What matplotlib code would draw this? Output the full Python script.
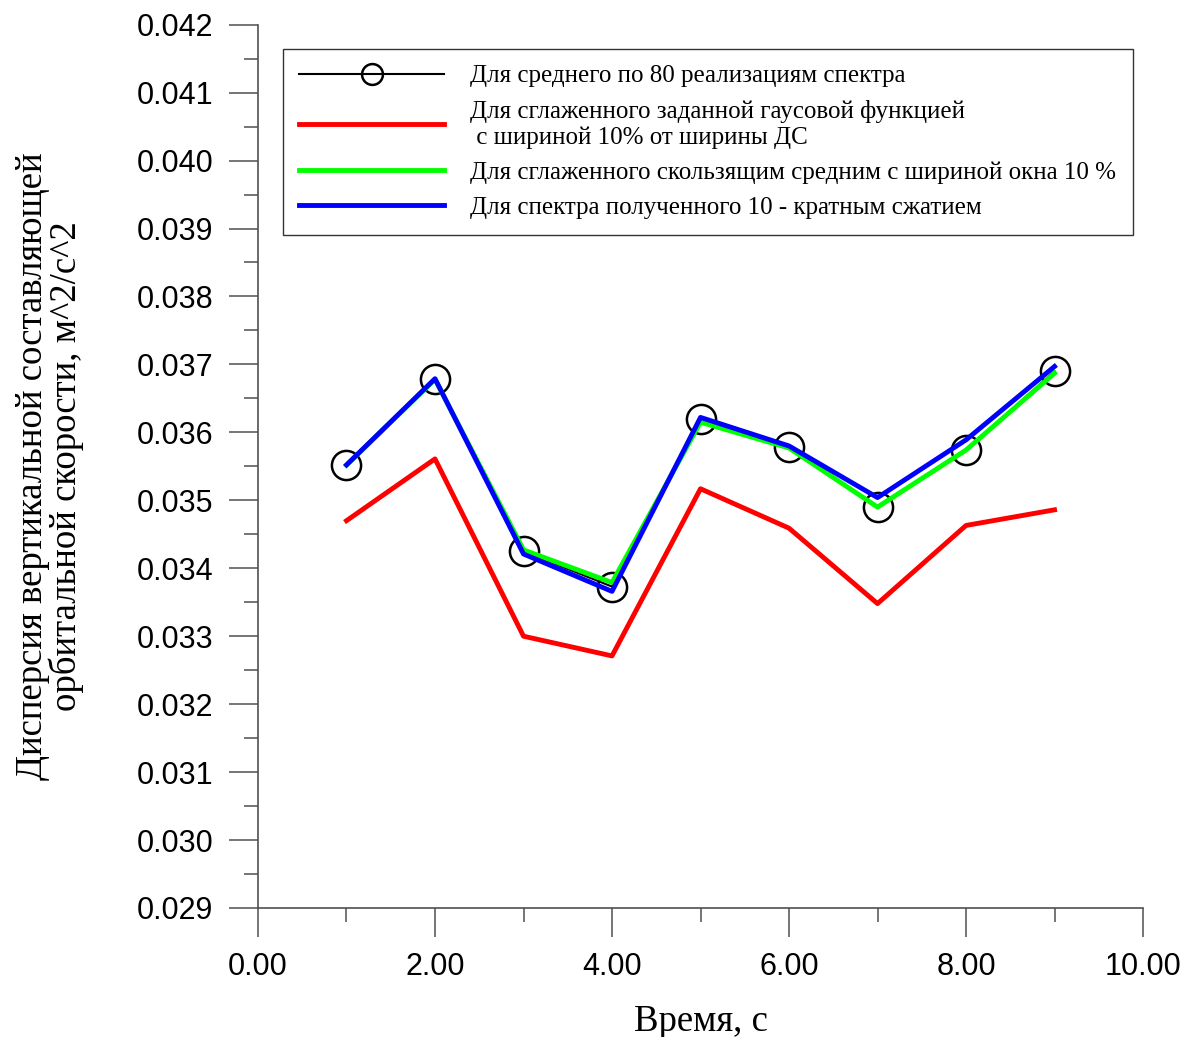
import matplotlib
matplotlib.use("Agg")
import matplotlib.pyplot as plt
from matplotlib.ticker import MultipleLocator, FormatStrFormatter

# time, s
t = [1, 2, 3, 4, 5, 6, 7, 8, 9]

# variance for each spectrum variant
mean_80 = [0.03552, 0.03679, 0.03425, 0.03373, 0.03620, 0.03578, 0.03490, 0.03574, 0.03690]
gauss = [0.03470, 0.03561, 0.03300, 0.03271, 0.03517, 0.03459, 0.03348, 0.03463, 0.03486]
moving_avg = [0.03552, 0.03678, 0.03427, 0.03379, 0.03615, 0.03577, 0.03490, 0.03574, 0.03687]
compressed = [0.03552, 0.03679, 0.03421, 0.03366, 0.03622, 0.03580, 0.03504, 0.03589, 0.03697]

labels = [
    "Для среднего по 80 реализациям спектра",
    "Для сглаженного заданной гаусовой функцией\n с шириной 10% от ширины ДС",
    "Для сглаженного скользящим средним с шириной окна 10 %",
    "Для спектра полученного 10 - кратным сжатием",
]

serif = "Liberation Serif"
sans = "Liberation Sans"

fig = plt.figure(figsize=(11.84, 10.37), dpi=100)
ax = fig.add_axes([0.2179, 0.1244, 0.7475, 0.8518])

ax.plot(t, mean_80, color="black", lw=1.5, marker="o", ms=21, mfc="none",
        mec="black", mew=1.8, label=labels[0])
ax.plot(t, gauss, color="#ff0000", lw=3.5, label=labels[1])
ax.plot(t, moving_avg, color="#00ff00", lw=3.5, label=labels[2])
ax.plot(t, compressed, color="#0000ff", lw=3.5, label=labels[3])

ax.set_xlim(0, 10)
ax.set_ylim(0.029, 0.042)

ax.xaxis.set_major_locator(MultipleLocator(2))
ax.xaxis.set_minor_locator(MultipleLocator(1))
ax.yaxis.set_major_locator(MultipleLocator(0.001))
ax.yaxis.set_minor_locator(MultipleLocator(0.0005))
ax.xaxis.set_major_formatter(FormatStrFormatter("%.2f"))
ax.yaxis.set_major_formatter(FormatStrFormatter("%.3f"))

for s in ["top", "right"]:
    ax.spines[s].set_visible(False)
for s in ["left", "bottom"]:
    ax.spines[s].set_color("#505050")
    ax.spines[s].set_linewidth(1.2)

ax.tick_params(which="major", direction="out", length=21, width=1.1, color="#505050",
               labelsize=22, pad=11)
ax.tick_params(which="minor", direction="out", length=10, width=1.1, color="#505050")
for lab in ax.get_xticklabels() + ax.get_yticklabels():
    lab.set_fontfamily(sans)

ax.set_xlabel("Время, с", fontsize=26.5, family=serif, labelpad=16)
ax.set_ylabel("Дисперсия вертикальной составляющей\nорбитальной скорости, м^2/с^2",
              fontsize=26.5, family=serif, linespacing=0.95)
ax.yaxis.set_label_coords(-0.197, 0.5)

leg = ax.legend(loc="upper left", bbox_to_anchor=(0.028, 0.973),
                prop={"family": serif, "size": 18}, frameon=True, fancybox=False,
                handlelength=5.8, handletextpad=1.05, borderpad=0.65, labelspacing=0.5,
                borderaxespad=0)
leg.get_frame().set_edgecolor("black")
leg.get_frame().set_linewidth(1.0)
leg.legend_handles[0].set_markersize(15)

fig.savefig("out.png", dpi=100)
